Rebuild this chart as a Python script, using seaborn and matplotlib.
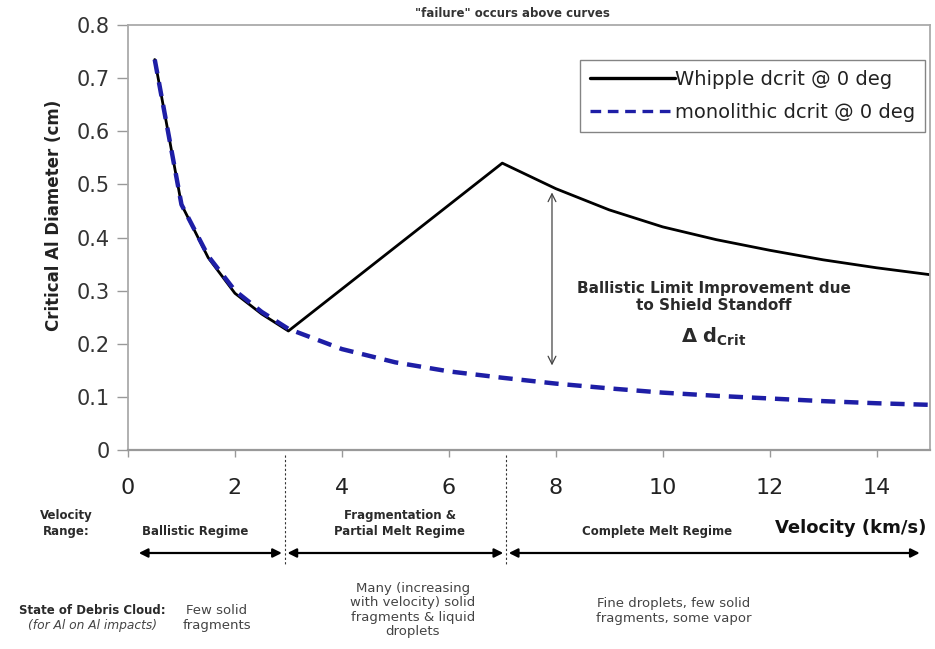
import matplotlib
matplotlib.use("Agg")
import matplotlib.pyplot as plt
import matplotlib.transforms as mtransforms
import seaborn as sns
import pandas as pd

# ---- data ----
whipple_v = [0.5, 1.0, 1.5, 2.0, 2.5, 3.0, 7.0, 8.0, 9.0, 10.0, 11.0, 12.0, 13.0, 14.0, 15.0]
whipple_d = [0.735, 0.462, 0.362, 0.295, 0.256, 0.224, 0.54, 0.492, 0.452, 0.420, 0.396, 0.376, 0.358, 0.343, 0.330]
mono_v = [0.5, 1.0, 1.5, 2.0, 2.5, 3.0, 4.0, 5.0, 6.0, 7.0, 8.0, 9.0, 10.0, 11.0, 12.0, 13.0, 14.0, 15.0]
mono_d = [0.735, 0.462, 0.365, 0.30, 0.26, 0.228, 0.19, 0.165, 0.148, 0.136, 0.125, 0.116, 0.108, 0.102, 0.097, 0.092, 0.088, 0.085]
series_names = ["Whipple dcrit @ 0 deg", "monolithic dcrit @ 0 deg"]
x_ticks = [0, 2, 4, 6, 8, 10, 12, 14]
y_ticks = [0, 0.1, 0.2, 0.3, 0.4, 0.5, 0.6, 0.7, 0.8]
y_tick_labels = ["0", "0.1", "0.2", "0.3", "0.4", "0.5", "0.6", "0.7", "0.8"]
regime_bounds = [0.15, 2.93, 7.07, 14.86]
regime_names = ["Ballistic Regime", "Fragmentation &\nPartial Melt Regime", "Complete Melt Regime"]
debris_states = ["Few solid\nfragments", "Many (increasing\nwith velocity) solid\nfragments & liquid\ndroplets",
                 "Fine droplets, few solid\nfragments, some vapor"]

df = pd.DataFrame({
    "v": whipple_v + mono_v,
    "d": whipple_d + mono_d,
    "series": [series_names[0]] * len(whipple_v) + [series_names[1]] * len(mono_v),
})

sns.set_theme(style="white")
plt.rcParams["font.family"] = ["DejaVu Sans"]

W, H = 935, 649
fig = plt.figure(figsize=(W / 100, H / 100), dpi=100)
ax = fig.add_axes([128 / W, 1 - 450 / H, 802 / W, 425 / H])

sns.lineplot(data=df, x="v", y="d", hue="series", style="series",
             palette={series_names[0]: "black", series_names[1]: "#1e1ea6"},
             dashes={series_names[0]: "", series_names[1]: (3.2, 2.0)},
             linewidth=2.0, ax=ax, legend=True, sort=False)
ax.lines[1].set_linewidth(3.2)
ax.lines[0].set_zorder(2)
ax.lines[1].set_zorder(3)

ax.set_xlim(0, 15)
ax.set_ylim(0, 0.8)
ax.set_xticks(x_ticks)
ax.set_yticks(y_ticks)
ax.set_yticklabels(y_tick_labels)
ax.tick_params(axis="x", labelsize=16, labelcolor="#222222", length=5, width=1,
               direction="out", color="#999999", pad=15, bottom=True)
ax.tick_params(axis="y", labelsize=15, labelcolor="#333333", length=8, width=1,
               direction="out", color="#999999", pad=5, left=True)
ax.set_xlabel("")
ax.set_ylabel("")

for s in ["left", "top", "right"]:
    ax.spines[s].set_color("#aaaaaa")
    ax.spines[s].set_linewidth(1.3)
ax.spines["bottom"].set_color("#999999")
ax.spines["bottom"].set_linewidth(1.6)

fig.text(54 / W, 1 - 215 / H, "Critical Al Diameter (cm)", rotation=90, fontsize=12,
         fontweight="bold", ha="center", va="center", color="#222222")

leg = ax.legend(loc="upper right", bbox_to_anchor=(0.994, 0.918), fontsize=14, frameon=True,
                fancybox=False, edgecolor="#666666", handlelength=4.4, handletextpad=0.0,
                borderpad=0.5, labelspacing=0.75, borderaxespad=0)
leg.get_frame().set_linewidth(1.0)
for t in leg.get_texts():
    t.set_color("#222222")
for h in leg.get_lines():
    h.set_linewidth(2.4)

ax.text(0.479, 1.012, '"failure" occurs above curves', transform=ax.transAxes,
        fontsize=8.5, fontweight="bold", ha="center", va="bottom", color="#333333")

# double arrow for improvement
ax.annotate("", xy=(7.93, 0.49), xytext=(7.93, 0.154),
            arrowprops=dict(arrowstyle="<->", color="#444444", lw=0.9, mutation_scale=14))
ax.text(10.95, 0.288, "Ballistic Limit Improvement due\nto Shield Standoff", fontsize=11,
        fontweight="bold", ha="center", va="center", color="#2a2a2a", linespacing=1.25)
ax.text(10.95, 0.213, r"$\mathbf{\Delta\ d_{Crit}}$", fontsize=14, ha="center", va="center",
        color="#2a2a2a")

# regime annotations below the axes
trans = mtransforms.blended_transform_factory(ax.transData, fig.transFigure)
y_arrow = 1 - 553 / H
for i in range(3):
    ax.annotate("", xy=(regime_bounds[i + 1], y_arrow), xytext=(regime_bounds[i], y_arrow),
                xycoords=trans, textcoords=trans,
                arrowprops=dict(arrowstyle="<|-|>", color="black", lw=1.6, mutation_scale=13,
                                shrinkA=2, shrinkB=2), annotation_clip=False)
for xb in regime_bounds[1:3]:
    ax.plot([xb, xb], [1 - 455 / H, 1 - 565 / H], transform=trans, color="#333333",
            lw=0.8, ls=(0, (2, 2)), clip_on=False)

regime_x = [1.25, 5.08, 9.89]
regime_y = [1 - 532 / H, 1 - 523.5 / H, 1 - 532 / H]
for xc, yc, name in zip(regime_x, regime_y, regime_names):
    ax.text(xc, yc, name, transform=trans, fontsize=8.5, fontweight="bold",
            ha="center", va="center", color="#2a2a2a", linespacing=1.35)
fig.text(66 / W, 1 - 523.5 / H, "Velocity\nRange:", fontsize=8.5, fontweight="bold",
         ha="center", va="center", color="#2a2a2a", linespacing=1.35)
fig.text(851 / W, 1 - 528 / H, "Velocity (km/s)", fontsize=13, fontweight="bold",
         ha="center", va="center", color="#111111")

fig.text(92 / W, 1 - 610 / H, "State of Debris Cloud:", fontsize=8.5, fontweight="bold",
         ha="center", va="center", color="#2a2a2a")
fig.text(92 / W, 1 - 626 / H, "(for Al on Al impacts)", fontsize=8.8, fontstyle="italic",
         ha="center", va="center", color="#444444")
debris_x = [1.66, 5.33, 10.2]
debris_y = [1 - 618 / H, 1 - 610 / H, 1 - 611 / H]
for xc, yc, txt in zip(debris_x, debris_y, debris_states):
    ax.text(xc, yc, txt, transform=trans, fontsize=9.5, ha="center", va="center",
            color="#444444", linespacing=1.15)

fig.savefig("out.png", dpi=100, facecolor="white")
